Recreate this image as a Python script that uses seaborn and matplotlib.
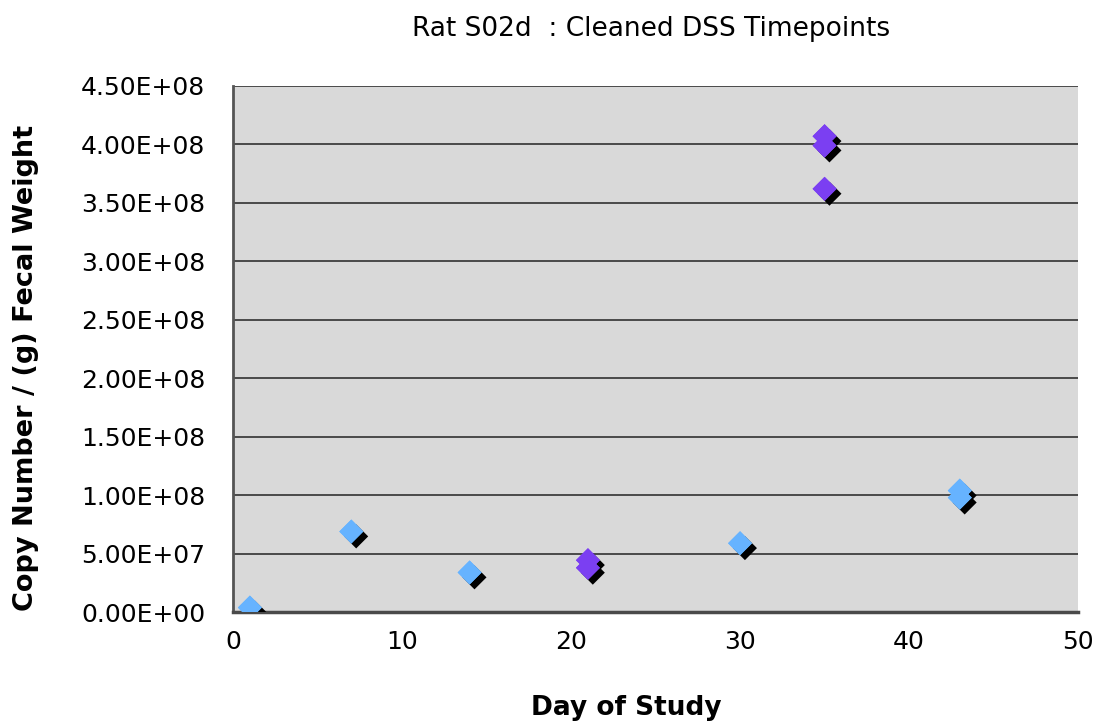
import matplotlib
matplotlib.use("Agg")
import matplotlib.pyplot as plt
import matplotlib.patheffects as pe
import seaborn as sns
import pandas as pd

# Data
blue_days = [1, 7, 14, 30, 43, 43]
blue_values = [4.0e6, 6.9e7, 3.4e7, 5.9e7, 1.04e8, 0.98e8]
purple_days = [21, 21, 35, 35, 35]
purple_values = [4.45e7, 3.8e7, 4.07e8, 3.99e8, 3.62e8]

x_ticks = [0, 10, 20, 30, 40, 50]
y_ticks = [0, 0.5e8, 1.0e8, 1.5e8, 2.0e8, 2.5e8, 3.0e8, 3.5e8, 4.0e8, 4.5e8]

df = pd.DataFrame({
    "day": blue_days + purple_days,
    "value": blue_values + purple_values,
    "group": ["blue"] * len(blue_days) + ["purple"] * len(purple_days),
})

sns.set_style("white")
plt.rcParams["font.family"] = ["DejaVu Sans"]
plt.rcParams["text.color"] = "black"
plt.rcParams["axes.labelcolor"] = "black"
plt.rcParams["xtick.color"] = "black"
plt.rcParams["ytick.color"] = "black"

fig = plt.figure(figsize=(10.99, 7.22), dpi=100)
ax = fig.add_axes([0.212, 0.152, 0.769, 0.729])
ax.set_facecolor("#d9d9d9")

shadow = [pe.withSimplePatchShadow(offset=(3.5, -3.5), shadow_rgbFace="black", alpha=1.0), pe.Normal()]
sns.scatterplot(data=df, x="day", y="value", hue="group", hue_order=["blue", "purple"],
                palette={"blue": "#66b3ff", "purple": "#7b3ff2"},
                marker="D", s=150, linewidth=0, legend=False, ax=ax, zorder=3)
for coll in ax.collections:
    coll.set_path_effects(shadow)

ax.set_xlim(0, 50)
ax.set_ylim(0, 4.5e8)
ax.set_xticks(x_ticks)
ax.set_yticks(y_ticks)
ax.set_xticklabels([str(t) for t in x_ticks], fontsize=18)
ax.set_yticklabels([f"{v:.2E}" for v in y_ticks], fontsize=18)

ax.yaxis.grid(True, color="#4a4a4a", linewidth=1.4, zorder=1)
ax.set_axisbelow(True)
for side in ["top", "right"]:
    ax.spines[side].set_visible(False)
ax.spines["left"].set_color("#555555")
ax.spines["left"].set_linewidth(2.0)
ax.spines["bottom"].set_color("#4a4a4a")
ax.spines["bottom"].set_linewidth(2.5)

ax.tick_params(axis="y", direction="out", length=6, width=2.5, color="#4a4a4a", pad=14,
               labelcolor="black")
ax.tick_params(axis="x", direction="out", length=7, width=2.5, color="#4a4a4a", pad=6,
               labelcolor="black")

ax.set_xlabel("Day of Study", fontsize=19, fontweight="bold")
ax.set_ylabel("Copy Number / (g) Fecal Weight", fontsize=19.5, fontweight="bold")
ax.xaxis.set_label_coords(0.465, -0.158)
ax.yaxis.set_label_coords(-0.229, 0.465)
fig.text(0.592, 0.96, "Rat S02d  : Cleaned DSS Timepoints", ha="center", va="center",
         fontsize=19)

fig.savefig("out.png", dpi=100)
